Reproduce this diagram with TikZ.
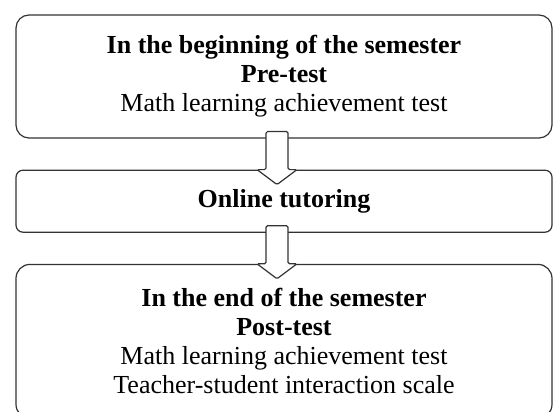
\documentclass[tikz,border=0pt]{standalone}
\usepackage{fontspec}
\setmainfont{Liberation Serif}
\usetikzlibrary{positioning,calc}

\tikzset{
  stage/.style={draw=black!80, line width=1.2pt, rounded corners=#1,
    minimum width=536pt, inner sep=0pt, align=center,
    font=\fontsize{26}{29}\selectfont},
  stage/.default=10pt,
  blockarrow/.style={draw=black!80, line width=1.2pt, fill=white, rounded corners=1.5pt}
}

% Block arrow from the bottom of one stage into the top of the next
\newcommand{\stagearrow}[2]{%
  \draw[blockarrow] ($(#1.south)+(-18,-7)$) -- ($(#1.south)+(4,-7)$)
    -- ($(#2.north)+(4,0)$) -- ($(#2.north)+(13,0)$) -- ($(#2.north)+(-7,15)$)
    -- ($(#2.north)+(-27,0)$) -- ($(#2.north)+(-18,0)$) -- cycle;}

\begin{document}
\begin{tikzpicture}[x=1pt,y=-1pt]

    \useasboundingbox (0,0) rectangle (555,412);

    % Draw the three stages
    \node (begin) [stage=13pt, minimum height=123pt] at (284,76.5)
      {\textbf{In the beginning of the semester}\\ \textbf{Pre-test}\\ Math learning achievement test};
    \node (tutor) [stage=7pt, minimum height=62pt, below=31pt of begin]
      {\textbf{Online tutoring}};
    \node (end) [stage=14pt, minimum height=154pt, below=31pt of tutor]
      {\textbf{In the end of the semester}\\ \textbf{Post-test}\\ Math learning achievement test\\ Teacher-student interaction scale};

    % Draw the arrows between stages
    \stagearrow{begin}{tutor}
    \stagearrow{tutor}{end}

\end{tikzpicture}
\end{document}
